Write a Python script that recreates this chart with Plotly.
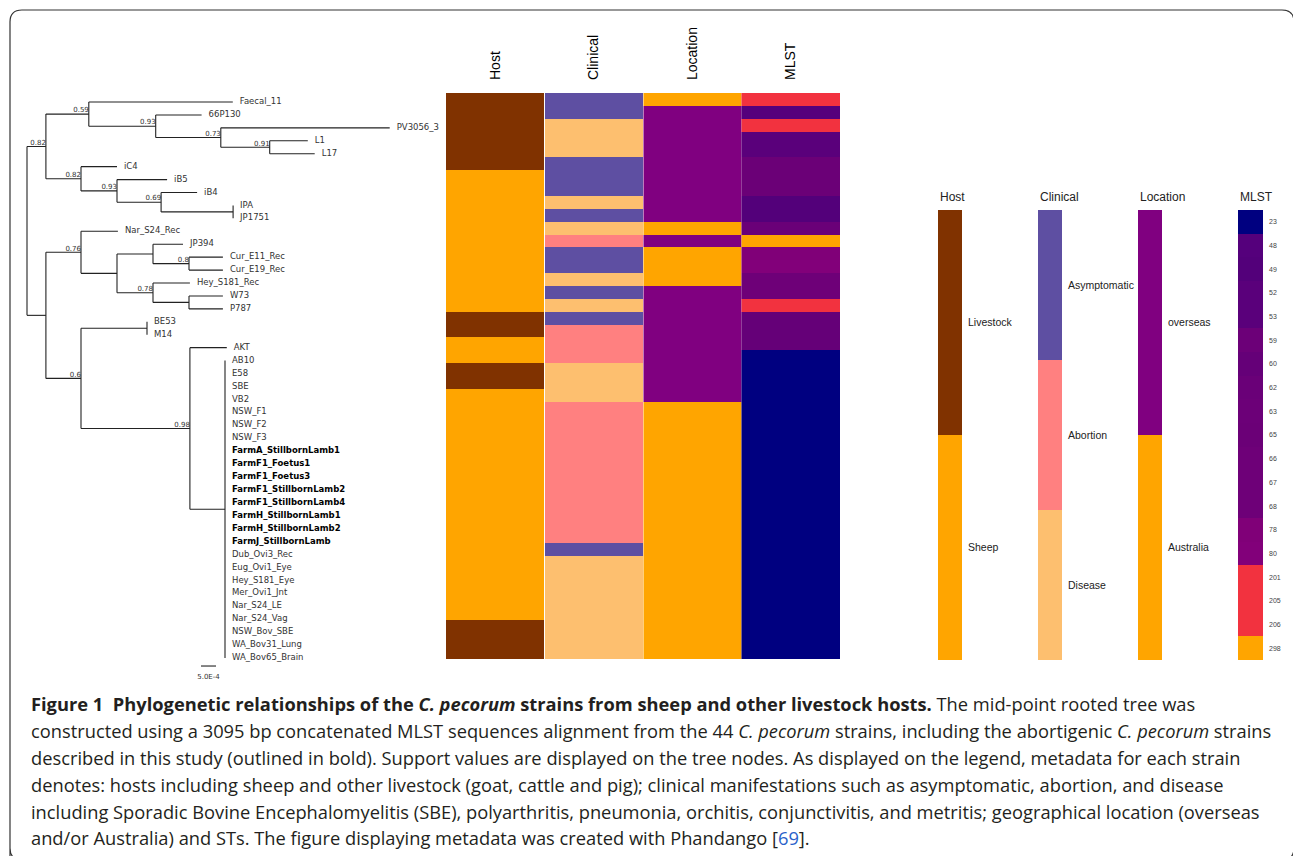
import plotly.graph_objects as go

# ---------------------------------------------------------------- data
# Mid-point rooted tree (branch lengths in substitutions/site, support after ')')
NEWICK = (
    "(((Faecal_11:0.0048,(66P130:0.00153,(PV3056_3:0.00563,(L1:0.00127,L17:0.0015)0.91:0.00163)0.73:0.00217)0.93:0.00223)0.59:0.00143,"
    "(iC4:0.0012,(iB5:0.00167,(iB4:0.0012,(IPA:0,JP1751:0):0.0024)0.69:0.00147)0.93:0.0012)0.82:0.00117)0.82:0.00063,"
    "((Nar_S24_Rec:0.00123,((JP394:0.001,(Cur_E11_Rec:0.00113,Cur_E19_Rec:0.00113)0.8:0.0012):0.0012,"
    "(Hey_S181_Rec:0.00123,(W73:0.00113,P787:0.00113):0.0012)0.78:0.0012):0.0012)0.76:0.00117,"
    "((BE53:0,M14:0):0.0022,(AKT:0.00123,(AB10:0,E58:0,SBE:0,VB2:0,NSW_F1:0,NSW_F2:0,NSW_F3:0,"
    "FarmA_StillbornLamb1:0,FarmF1_Foetus1:0,FarmF1_Foetus3:0,FarmF1_StillbornLamb2:0,FarmF1_StillbornLamb4:0,"
    "FarmH_StillbornLamb1:0,FarmH_StillbornLamb2:0,FarmJ_StillbornLamb:0,Dub_Ovi3_Rec:0,Eug_Ovi1_Eye:0,"
    "Hey_S181_Eye:0,Mer_Ovi1_Jnt:0,Nar_S24_LE:0,Nar_S24_Vag:0,NSW_Bov_SBE:0,WA_Bov31_Lung:0,WA_Bov65_Brain:0)"
    ":0.00117)0.98:0.00363)0.6:0.00117):0.00063);"
)

STRAINS = [
    "Faecal_11", "66P130", "PV3056_3", "L1", "L17", "iC4", "iB5", "iB4", "IPA", "JP1751",
    "Nar_S24_Rec", "JP394", "Cur_E11_Rec", "Cur_E19_Rec", "Hey_S181_Rec", "W73", "P787",
    "BE53", "M14", "AKT", "AB10", "E58", "SBE", "VB2", "NSW_F1", "NSW_F2", "NSW_F3",
    "FarmA_StillbornLamb1", "FarmF1_Foetus1", "FarmF1_Foetus3", "FarmF1_StillbornLamb2",
    "FarmF1_StillbornLamb4", "FarmH_StillbornLamb1", "FarmH_StillbornLamb2", "FarmJ_StillbornLamb",
    "Dub_Ovi3_Rec", "Eug_Ovi1_Eye", "Hey_S181_Eye", "Mer_Ovi1_Jnt", "Nar_S24_LE", "Nar_S24_Vag",
    "NSW_Bov_SBE", "WA_Bov31_Lung", "WA_Bov65_Brain",
]

BOLD_STRAINS = [
    "FarmA_StillbornLamb1", "FarmF1_Foetus1", "FarmF1_Foetus3", "FarmF1_StillbornLamb2",
    "FarmF1_StillbornLamb4", "FarmH_StillbornLamb1", "FarmH_StillbornLamb2", "FarmJ_StillbornLamb",
]

HOST = [
    "Livestock", "Livestock", "Livestock", "Livestock", "Livestock", "Livestock",
    "Sheep", "Sheep", "Sheep", "Sheep", "Sheep", "Sheep", "Sheep", "Sheep", "Sheep", "Sheep", "Sheep",
    "Livestock", "Livestock", "Sheep", "Sheep", "Livestock", "Livestock",
    "Sheep", "Sheep", "Sheep", "Sheep", "Sheep", "Sheep", "Sheep", "Sheep", "Sheep",
    "Sheep", "Sheep", "Sheep", "Sheep", "Sheep", "Sheep", "Sheep", "Sheep", "Sheep",
    "Livestock", "Livestock", "Livestock",
]

CLINICAL = [
    "Asymptomatic", "Asymptomatic", "Disease", "Disease", "Disease", "Asymptomatic",
    "Asymptomatic", "Asymptomatic", "Disease", "Asymptomatic", "Disease", "Abortion",
    "Asymptomatic", "Asymptomatic", "Disease", "Asymptomatic", "Disease", "Asymptomatic",
    "Abortion", "Abortion", "Abortion", "Disease", "Disease", "Disease",
    "Abortion", "Abortion", "Abortion", "Abortion", "Abortion", "Abortion", "Abortion",
    "Abortion", "Abortion", "Abortion", "Abortion", "Asymptomatic",
    "Disease", "Disease", "Disease", "Disease", "Disease", "Disease", "Disease", "Disease",
]

LOCATION = [
    "Australia", "overseas", "overseas", "overseas", "overseas", "overseas", "overseas",
    "overseas", "overseas", "overseas", "Australia", "overseas", "Australia", "Australia",
    "Australia", "overseas", "overseas", "overseas", "overseas", "overseas", "overseas",
    "overseas", "overseas", "overseas",
    "Australia", "Australia", "Australia", "Australia", "Australia", "Australia", "Australia",
    "Australia", "Australia", "Australia", "Australia", "Australia", "Australia", "Australia",
    "Australia", "Australia", "Australia", "Australia", "Australia", "Australia",
]

MLST = [
    201, 48, 205, 53, 52, 65, 65, 65, 49, 49, 62, 298, 78, 80, 67, 66, 206, 60, 60, 60,
    23, 23, 23, 23, 23, 23, 23, 23, 23, 23, 23, 23, 23, 23, 23, 23, 23, 23, 23, 23,
    23, 23, 23, 23,
]

HOST_CATS = ["Livestock", "Sheep"]
HOST_COLORS = ["#803200", "#FFA500"]
CLIN_CATS = ["Asymptomatic", "Abortion", "Disease"]
CLIN_COLORS = ["#5E4FA2", "#FF8080", "#FDBF6F"]
LOC_CATS = ["overseas", "Australia"]
LOC_COLORS = ["#800080", "#FFA500"]
ST_CATS = [23, 48, 49, 52, 53, 59, 60, 62, 63, 65, 66, 67, 68, 78, 80, 201, 205, 206, 298]
ST_COLORS = ["#000080", "#55007C", "#53007A", "#5A007B", "#5A007B", "#6C0078", "#650078",
             "#6A0078", "#6C0078", "#6B0077", "#6E0078", "#6E0078", "#6E0078", "#800078",
             "#82007A", "#F2323F", "#F2323F", "#F2323F", "#FFA500"]

SCALE_BAR = 5.0e-4
SCALE_LABEL = "5.0E-4"

CAPTION = [
    "<b>Figure 1\u00a0\u00a0Phylogenetic relationships of the <i>C. pecorum</i> strains from sheep and other livestock hosts.</b> The mid-point rooted tree was",
    "constructed using a 3095 bp concatenated MLST sequences alignment from the 44 <i>C. pecorum</i> strains, including the abortigenic <i>C. pecorum</i> strains",
    "described in this study (outlined in bold). Support values are displayed on the tree nodes. As displayed on the legend, metadata for each strain",
    "denotes: hosts including sheep and other livestock (goat, cattle and pig); clinical manifestations such as asymptomatic, abortion, and disease",
    "including Sporadic Bovine Encephalomyelitis (SBE), polyarthritis, pneumonia, orchitis, conjunctivitis, and metritis; geographical location (overseas",
    "and/or Australia) and STs. The figure displaying metadata was created with Phandango [<span style='color:#2a62c9'>69</span>].",
]

# ---------------------------------------------------------------- tree parsing
def parse_newick(s):
    s = s.strip().rstrip(";")
    pos = 0

    def node():
        nonlocal pos
        n = {"children": [], "name": "", "support": None, "bl": 0.0}
        if s[pos] == "(":
            pos += 1
            while True:
                n["children"].append(node())
                if s[pos] == ",":
                    pos += 1
                    continue
                if s[pos] == ")":
                    pos += 1
                    break
        start = pos
        while pos < len(s) and s[pos] not in ":,()":
            pos += 1
        label = s[start:pos]
        if pos < len(s) and s[pos] == ":":
            pos += 1
            start = pos
            while pos < len(s) and s[pos] not in ",()":
                pos += 1
            n["bl"] = float(s[start:pos])
        if n["children"]:
            n["support"] = label or None
        else:
            n["name"] = label
        return n

    return node()


tree = parse_newick(NEWICK)
leaves = []


def assign(n, parent_x):
    n["x"] = parent_x + n["bl"]
    if not n["children"]:
        n["y"] = len(leaves)
        leaves.append(n)
    else:
        for c in n["children"]:
            assign(c, n["x"])
        n["y"] = (n["children"][0]["y"] + n["children"][-1]["y"]) / 2


tree["bl"] = 0.0
assign(tree, 0.0)
assert [l["name"] for l in leaves] == STRAINS

seg_x, seg_y = [], []
sup_x, sup_y, sup_t = [], [], []


def collect(n):
    if not n["children"]:
        return
    c0, c1 = n["children"][0], n["children"][-1]
    seg_x.extend([n["x"], n["x"], None])
    seg_y.extend([c0["y"], c1["y"], None])
    for c in n["children"]:
        seg_x.extend([n["x"], c["x"], None])
        seg_y.extend([c["y"], c["y"], None])
        if c["support"]:
            sup_x.append(c["x"])
            sup_y.append(c["y"])
            sup_t.append(c["support"])
        collect(c)


collect(tree)

# ---------------------------------------------------------------- geometry helpers
W, H = 1293, 856
PXU = SCALE_BAR / 15.0          # tree units per pixel


def fx(p):
    return p / W


def fy(p):
    return 1 - p / H


fig = go.Figure()

# tree branches
fig.add_trace(go.Scatter(x=seg_x, y=seg_y, mode="lines", line=dict(color="#222222", width=1.1),
                         hoverinfo="skip", xaxis="x", yaxis="y"))
# leaf labels
lab_txt = [f"<b>{l['name']}</b>" if l["name"] in BOLD_STRAINS else l["name"] for l in leaves]
lab_col = ["#000000" if l["name"] in BOLD_STRAINS else "#333333" for l in leaves]
fig.add_trace(go.Scatter(x=[l["x"] + 7 * PXU for l in leaves], y=[l["y"] for l in leaves],
                         mode="text", text=lab_txt, textposition="middle right",
                         textfont=dict(family="DejaVu Sans", size=8.5, color=lab_col),
                         hoverinfo="skip", xaxis="x", yaxis="y"))
# support values
fig.add_trace(go.Scatter(x=sup_x, y=sup_y, mode="text", text=sup_t, textposition="top left",
                         textfont=dict(family="DejaVu Sans", size=7, color="#333333"),
                         hoverinfo="skip", xaxis="x", yaxis="y"))
# scale bar
sb_x0 = 0.0058
sb_y = len(STRAINS) - 1 + 0.62
fig.add_trace(go.Scatter(x=[sb_x0, sb_x0 + SCALE_BAR], y=[sb_y, sb_y], mode="lines",
                         line=dict(color="#222222", width=1.1), hoverinfo="skip", xaxis="x", yaxis="y"))
fig.add_trace(go.Scatter(x=[sb_x0 + SCALE_BAR / 2], y=[sb_y + 0.85], mode="text", text=[SCALE_LABEL],
                         textposition="middle center",
                         textfont=dict(family="DejaVu Sans", size=7, color="#333333"),
                         hoverinfo="skip", xaxis="x", yaxis="y"))

# ---------------------------------------------------------------- metadata heatmap
def step_scale(colors):
    n = len(colors)
    cs = []
    for i, c in enumerate(colors):
        cs.append([i / n, c])
        cs.append([(i + 1) / n, c])
    return cs


columns = [
    (HOST, HOST_CATS, HOST_COLORS, (0.0, 0.99)),
    (CLINICAL, CLIN_CATS, CLIN_COLORS, (1.005, 1.995)),
    (LOCATION, LOC_CATS, LOC_COLORS, (2.005, 3.0)),
    (MLST, ST_CATS, ST_COLORS, (3.0, 4.0)),
]
row_edges = list(range(len(STRAINS) + 1))
for vals, cats, cols, xe in columns:
    z = [[cats.index(v)] for v in vals]
    fig.add_trace(go.Heatmap(z=z, x=list(xe), y=row_edges, colorscale=step_scale(cols),
                             zmin=-0.5, zmax=len(cats) - 0.5, showscale=False,
                             hoverinfo="skip", xaxis="x2", yaxis="y2"))

# ---------------------------------------------------------------- legend bars
legend_specs = [
    ("Host", HOST_CATS, HOST_COLORS, 938, 962, 10.5, "#222222"),
    ("Clinical", CLIN_CATS, CLIN_COLORS, 1038, 1062, 10.5, "#222222"),
    ("Location", LOC_CATS, LOC_COLORS, 1138, 1162, 10.5, "#222222"),
    ("MLST", [str(s) for s in ST_CATS], ST_COLORS, 1238, 1263, 7, "#444444"),
]
axes_layout = {}
annotations = []
for i, (title, cats, cols, x0, x1, fs, fc) in enumerate(legend_specs):
    k = i + 3
    n = len(cats)
    fig.add_trace(go.Heatmap(z=[[j] for j in range(n)], x=[0, 1], y=list(range(n + 1)),
                             colorscale=step_scale(cols), zmin=-0.5, zmax=n - 0.5,
                             showscale=False, hoverinfo="skip", xaxis=f"x{k}", yaxis=f"y{k}"))
    axes_layout[f"xaxis{k}"] = dict(domain=[fx(x0), fx(x1)], range=[0, 1], visible=False,
                                    anchor=f"y{k}")
    axes_layout[f"yaxis{k}"] = dict(domain=[fy(660), fy(210)], range=[n, 0], anchor=f"x{k}",
                                    side="right", showgrid=False, zeroline=False, showline=False,
                                    ticks="", tickvals=[j + 0.5 for j in range(n)], ticktext=cats,
                                    ticklabelstandoff=5,
                                    tickfont=dict(family="Liberation Sans", size=fs, color=fc))
    annotations.append(dict(x=fx(x0), y=fy(197), xref="paper", yref="paper", text=title,
                            showarrow=False, xanchor="left", yanchor="middle",
                            font=dict(family="Liberation Sans", size=12, color="#222222")))

# caption
cap_y = [703, 730, 757, 784, 811, 837]
for t, yy in zip(CAPTION, cap_y):
    annotations.append(dict(x=fx(29), y=fy(yy), xref="paper", yref="paper", text=t,
                            showarrow=False, xanchor="left", yanchor="middle", align="left",
                            font=dict(family="Open Sans", size=18.3, color="#231f20")))

# frame (rounded rectangle)
def P(x, y):
    return f"{fx(x):.5f},{fy(y):.5f}"


frame_path = (f"M {P(10, 880)} L {P(10, 22)} Q {P(10, 10)} {P(22, 10)} L {P(1282, 10)} "
              f"Q {P(1294, 10)} {P(1294, 22)} L {P(1294, 848)} Q {P(1294, 860)} {P(1282, 860)} "
              f"L {P(22, 860)} Q {P(10, 860)} {P(10, 848)} Z")

# tree y-range: leaf 0 at 102px, leaf 43 at 658px
row_px = (658 - 102) / (len(STRAINS) - 1)
tree_top_px, tree_bot_px = 95.5, 682
fig.update_layout(
    width=W, height=H, margin=dict(l=0, r=0, t=0, b=0),
    paper_bgcolor="white", plot_bgcolor="white", showlegend=False,
    xaxis=dict(domain=[0, fx(445)], range=[-27 * PXU, (445 - 27) * PXU], visible=False, anchor="y"),
    yaxis=dict(domain=[fy(tree_bot_px), fy(tree_top_px)],
               range=[(tree_bot_px - 102) / row_px, (tree_top_px - 102) / row_px],
               visible=False, anchor="x"),
    xaxis2=dict(domain=[fx(446), fx(840)], range=[0, 4], anchor="y2", side="top",
                showgrid=False, zeroline=False, showline=False, ticks="",
                tickvals=[0.5, 1.5, 2.5, 3.5], ticktext=["Host", "Clinical", "Location", "MLST"],
                tickangle=-90, ticklabelstandoff=12,
                tickfont=dict(family="Liberation Sans", size=14, color="#000000")),
    yaxis2=dict(domain=[fy(659), fy(93)], range=[len(STRAINS), 0], visible=False, anchor="x2"),
    annotations=annotations,
    shapes=[dict(type="path", path=frame_path, xref="paper", yref="paper",
                 line=dict(color="#333333", width=1.2), layer="above")],
    **axes_layout,
)

fig.write_html("out.html", config={"displayModeBar": False},
               post_script="document.body.style.margin='0';document.body.style.overflow='hidden';")
